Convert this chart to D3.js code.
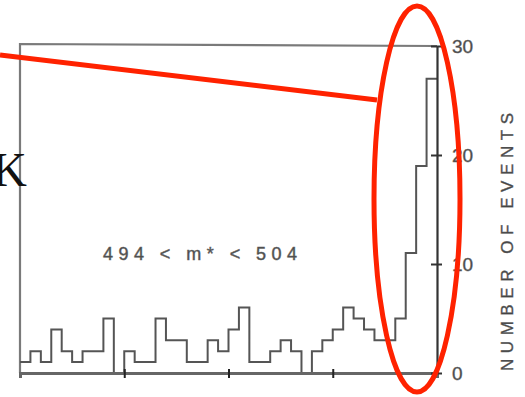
<!DOCTYPE html>
<html>
<head>
<meta charset="utf-8">
<script src="https://cdn.jsdelivr.net/npm/d3@7"></script>
<style>
  body { margin: 0; background: white; }
  svg { display: block; }
</style>
</head>
<body>
<div id="chart"></div>
<script>
// events per mass bin (40 bins)
let counts = [1, 2, 1, 4, 2, 1, 2, 2, 5, 0,
              2, 1, 1, 5, 3, 3, 1, 1, 3, 2,
              4, 6, 1, 1, 2, 3, 2, 0, 2, 3,
              4, 6, 5, 4, 3, 3, 5, 11, 19, 27];
let yTicks = [0, 10, 20, 30];
let xTicks = [10, 20, 30];
let cutLabel = "494 < m* < 504";
let yTitle = "NUMBER OF EVENTS";

let width = 525, height = 397;

let svg = d3.select("#chart")
  .append("svg")
  .attr("width", width)
  .attr("height", height)
  .style("background-color", "white");

let x = d3.scaleLinear().domain([0, counts.length]).range([20, 437]);
let y = d3.scaleLinear().domain([0, 30]).range([373, 46]);

// frame: top and left edges
svg.append("path")
  .attr("d", "M" + x(0) + "," + y(0) + " L" + x(0) + "," + (y(30) - 2) + " L" + x(40) + "," + y(30))
  .attr("fill", "none")
  .attr("stroke", "#7a7a7a")
  .attr("stroke-width", 2.2);

// histogram as a step line
let pts = counts.map((d, i) => [i, d]);
pts.push([counts.length, counts[counts.length - 1]]);
let step = d3.line()
  .x(d => x(d[0]))
  .y(d => y(d[1]))
  .curve(d3.curveStepAfter);

svg.append("path")
  .datum(pts)
  .attr("d", step)
  .attr("fill", "none")
  .attr("stroke", "#555")
  .attr("stroke-width", 2);

// bottom axis
let xAxis = svg.append("g")
  .attr("transform", "translate(0," + y(0) + ")")
  .call(d3.axisBottom(x).tickValues(xTicks).tickSize(5).tickFormat(""));
xAxis.select(".domain").attr("stroke", "#666").attr("stroke-width", 3);
xAxis.selectAll(".tick line").attr("y1", -4).attr("stroke", "#222").attr("stroke-width", 2);

// right axis
let yAxis = svg.append("g")
  .attr("transform", "translate(" + x(40) + ",0)")
  .call(d3.axisRight(y).tickValues(yTicks).tickSize(5).tickPadding(10).tickSizeOuter(0));
yAxis.select(".domain").attr("stroke", "#333").attr("stroke-width", 2.2);
yAxis.selectAll(".tick line").attr("x1", -6).attr("stroke", "#333").attr("stroke-width", 2);
yAxis.selectAll(".tick text")
  .attr("fill", "#4a4a4a")
  .attr("stroke", "#666")
  .attr("stroke-width", 0.4)
  .style("font-family", "Liberation Sans, Arial, sans-serif")
  .style("font-size", "19px");

// axis title
svg.append("text")
  .attr("transform", "translate(513,242) rotate(-90)")
  .attr("text-anchor", "middle")
  .attr("textLength", 258)
  .attr("lengthAdjust", "spacing")
  .attr("fill", "#444")
  .attr("stroke", "#666")
  .attr("stroke-width", 0.4)
  .style("font-family", "Liberation Sans, Arial, sans-serif")
  .style("font-size", "17px")
  .text(yTitle);

// mass cut label
svg.append("text")
  .attr("x", 103)
  .attr("y", 260)
  .attr("textLength", 194)
  .attr("lengthAdjust", "spacing")
  .attr("fill", "#4a4a4a")
  .attr("stroke", "#666")
  .attr("stroke-width", 0.5)
  .style("font-family", "Liberation Sans, Arial, sans-serif")
  .style("font-size", "18px")
  .text(cutLabel);

// partial letter at the left edge
svg.append("text")
  .attr("x", 27)
  .attr("y", 186)
  .attr("text-anchor", "end")
  .attr("fill", "#111")
  .style("font-family", "Liberation Serif, Times New Roman, serif")
  .style("font-size", "48px")
  .text("K");

// red annotation: pointer line and ellipse round the peak
svg.append("line")
  .attr("x1", 0).attr("y1", 55)
  .attr("x2", 377).attr("y2", 100)
  .attr("stroke", "#ff2200")
  .attr("stroke-width", 5);

svg.append("ellipse")
  .attr("cx", 417)
  .attr("cy", 199)
  .attr("rx", 43)
  .attr("ry", 193)
  .attr("fill", "none")
  .attr("stroke", "#ff2200")
  .attr("stroke-width", 5);
</script>
</body>
</html>
